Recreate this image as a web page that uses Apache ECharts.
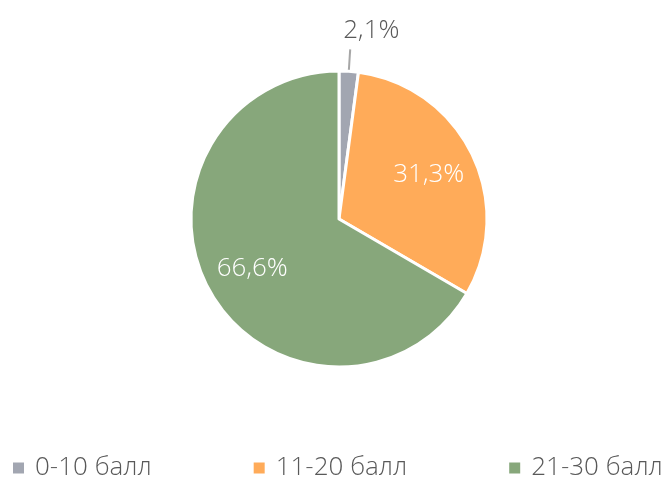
<!DOCTYPE html>
<html>
<head>
<meta charset="utf-8">
<script src="https://cdn.jsdelivr.net/npm/echarts@6/dist/echarts.min.js"></script>
<style>
  html, body { margin: 0; padding: 0; background: #fff; }
  #chart { width: 671px; height: 480px; }
</style>
</head>
<body>
<div id="chart"></div>
<script>
var names = ['0-10 балл', '11-20 балл', '21-30 балл'];
var values = [2.1, 31.3, 66.6];
var colors = ['#a2a6b1', '#ffab59', '#87a77b'];

var font = '"Open Sans Light", "Open Sans", sans-serif';
var chart = echarts.init(document.getElementById('chart'));

var pieData = [];
var labelData = [];
for (var i = 0; i < names.length; i++) {
  pieData.push({ name: names[i], value: values[i] });
  labelData.push({ name: names[i], value: values[i] });
}
// smallest slice gets an outside label with a short leader line
labelData[0].label = {
  position: 'outside',
  color: '#595959',
  offset: [-12, -18]
};
labelData[0].labelLine = { show: true, length: 22, length2: 0, lineStyle: { color: '#a6a6a6', width: 2 } };

var options = {
  color: colors,
  legend: {
    data: names,
    top: 455,
    left: 11,
    width: 660,
    padding: 0,
    itemWidth: 13,
    itemHeight: 13,
    itemGap: 100,
    icon: 'rect',
    selectedMode: false,
    textStyle: { color: '#595959', fontFamily: font, fontWeight: 300, fontSize: 26, padding: [0, 0, 0, 5] }
  },
  series: [
    {
      name: 'pie',
      type: 'pie',
      center: [339, 219],
      radius: [0, 148],
      startAngle: 90,
      clockwise: true,
      label: { show: false },
      labelLine: { show: false },
      itemStyle: { borderColor: '#fff', borderWidth: 3 },
      emphasis: { disabled: true },
      data: pieData
    },
    {
      // transparent ring only used to place the percentage labels
      name: 'labels',
      type: 'pie',
      center: [339, 219],
      radius: [46, 148],
      startAngle: 90,
      clockwise: true,
      silent: true,
      itemStyle: { color: 'rgba(0,0,0,0)' },
      label: {
        show: true,
        position: 'inside',
        color: '#fff',
        fontFamily: font,
        fontWeight: 300,
        fontSize: 26,
        formatter: function (p) { return p.value.toFixed(1).replace('.', ',') + '%'; }
      },
      labelLine: { show: false },
      emphasis: { disabled: true },
      data: labelData
    }
  ]
};
chart.setOption(options);
</script>
</body>
</html>
